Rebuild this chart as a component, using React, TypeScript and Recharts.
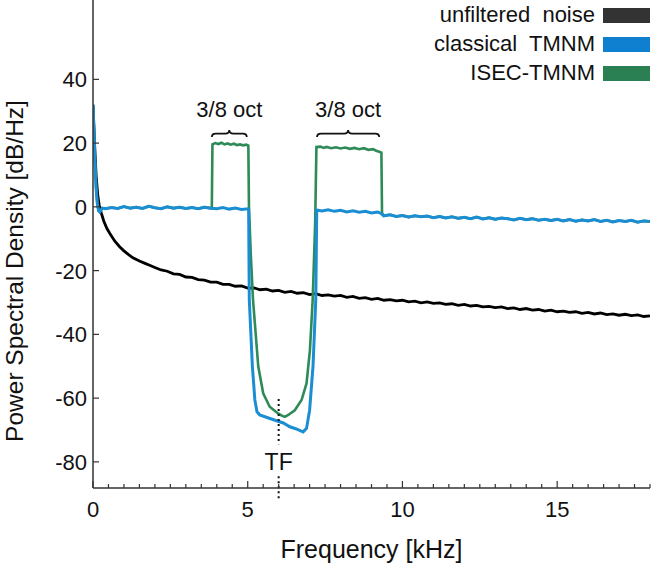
import React from 'react';
import { LineChart, Line, XAxis, YAxis, ReferenceLine, ReferenceArea, ReferenceDot } from 'recharts';

const FONT = '"Liberation Sans", Arial, Helvetica, sans-serif';

// [frequency kHz, PSD dB/Hz]
const unfiltered: [number, number][] = [
  [0, 32], [0.05, 20], [0.1, 10], [0.15, 4], [0.2, 0.5], [0.27, -2], [0.35, -4.5], [0.45, -6.8],
  [0.54, -8.3], [0.7, -10.7], [0.86, -12.5], [1.0, -13.8], [1.15, -15], [1.29, -16], [1.5, -17],
  [1.7, -17.8], [1.83, -18.3], [2.0, -19.0], [2.2, -19.8], [2.4, -20.2], [2.6, -21.0], [2.8, -21.2],
  [3.0, -22.0], [3.2, -22.1], [3.4, -22.8], [3.6, -23.0], [3.8, -23.6], [4.0, -23.6], [4.2, -24.3],
  [4.4, -24.3], [4.6, -24.9], [4.8, -24.8], [5.0, -25.5], [5.2, -25.4], [5.4, -26.0], [5.6, -25.8],
  [5.8, -26.4], [6.0, -26.2], [6.2, -26.8], [6.4, -26.5], [6.6, -27.1], [6.8, -26.9], [7.0, -27.5],
  [7.2, -27.2], [7.4, -27.8], [7.6, -27.6], [7.8, -28.0], [8.0, -27.8], [8.2, -28.4], [8.4, -28.1],
  [8.6, -28.7], [8.8, -28.5], [9.0, -29.0], [9.2, -28.7], [9.4, -29.3], [9.6, -29.1], [9.8, -29.5],
  [10.0, -29.3], [10.2, -29.8], [10.4, -29.6], [10.6, -30.1], [10.8, -29.8], [11.0, -30.3],
  [11.2, -30.1], [11.4, -30.6], [11.6, -30.4], [11.8, -30.9], [12.0, -30.6], [12.2, -31.1],
  [12.4, -30.9], [12.6, -31.4], [12.8, -31.2], [13.0, -31.6], [13.2, -31.4], [13.4, -31.9],
  [13.6, -31.7], [13.8, -32.2], [14.0, -31.9], [14.2, -32.4], [14.4, -32.2], [14.6, -32.7],
  [14.8, -32.4], [15.0, -32.9], [15.2, -32.7], [15.4, -33.1], [15.6, -32.9], [15.8, -33.4],
  [16.0, -33.1], [16.2, -33.6], [16.4, -33.3], [16.6, -33.8], [16.8, -33.6], [17.0, -34.0],
  [17.2, -33.7], [17.4, -34.1], [17.6, -33.9], [17.8, -34.4], [18.0, -34.2],
];

const classical: [number, number][] = [
  [0, 32], [0.03, 24], [0.06, 15], [0.1, 6], [0.14, 1], [0.18, -1.2], [0.22, -1.6], [0.26, -1.0],
  [0.3, -0.4], [0.4, -0.6], [0.6, -0.2], [0.8, -0.5], [1.0, 0.1], [1.2, -0.4], [1.4, -0.1],
  [1.6, -0.5], [1.8, 0.2], [2.0, -0.3], [2.2, -0.6], [2.4, 0.0], [2.6, -0.4], [2.8, -0.1],
  [3.0, -0.5], [3.2, -0.2], [3.4, -0.6], [3.6, -0.1], [3.8, -0.4], [4.0, -0.6], [4.2, -0.2],
  [4.4, -0.7], [4.6, -0.4], [4.8, -0.8], [5.0, -0.6], [5.03, -1], [5.05, -29], [5.15, -50],
  [5.23, -60.5], [5.3, -64.3], [5.39, -65.3], [5.6, -66], [5.93, -67.1], [6.15, -67.8], [6.36, -69],
  [6.55, -69.6], [6.79, -70.6], [6.9, -69.5], [7.0, -63.8], [7.11, -50], [7.2, -29], [7.23, -1],
  [7.4, -1.3], [7.6, -0.9], [7.8, -1.4], [8.0, -1.1], [8.2, -1.6], [8.4, -1.2], [8.6, -1.7],
  [8.8, -1.4], [9.0, -1.9], [9.2, -1.6], [9.3, -2.0], [9.4, -2.8], [9.6, -2.5], [9.8, -3.0],
  [10.0, -2.7], [10.2, -3.2], [10.4, -2.8], [10.6, -3.1], [10.8, -2.9], [11.0, -3.4], [11.2, -3.0],
  [11.4, -3.5], [11.6, -3.1], [11.8, -3.6], [12.0, -3.3], [12.2, -3.7], [12.4, -3.2], [12.6, -3.8],
  [12.8, -3.4], [13.0, -3.9], [13.2, -3.5], [13.4, -3.7], [13.6, -4.1], [13.8, -3.6], [14.0, -4.0],
  [14.2, -3.7], [14.4, -4.2], [14.6, -3.9], [14.8, -4.3], [15.0, -3.9], [15.2, -4.4], [15.4, -4.0],
  [15.6, -4.5], [15.8, -4.1], [16.0, -4.4], [16.2, -4.0], [16.4, -4.6], [16.6, -4.2], [16.8, -4.7],
  [17.0, -4.3], [17.2, -4.6], [17.4, -4.2], [17.6, -4.8], [17.8, -4.4], [18.0, -4.6],
];

// ISEC-TMNM differs from classical only between 3.84 and 9.34 kHz
const isecBands: [number, number][] = [
  [3.84, -0.4], [3.86, 19.6], [3.95, 20.0], [4.05, 19.7], [4.15, 20.1], [4.25, 19.6], [4.35, 19.9],
  [4.45, 19.5], [4.55, 19.8], [4.65, 19.4], [4.75, 19.6], [4.85, 19.3], [4.95, 19.5], [5.02, 19.2],
  [5.04, 0], [5.1, -15], [5.17, -29], [5.34, -50], [5.5, -58.5], [5.71, -62.7], [5.98, -64.8],
  [6.1, -65.5], [6.2, -65.9], [6.31, -65.3], [6.52, -63.8], [6.74, -60.6], [6.9, -55.4], [7.01, -45],
  [7.1, -29], [7.18, -5], [7.22, 18.8], [7.35, 18.9], [7.45, 18.5], [7.55, 18.8], [7.7, 18.4],
  [7.85, 18.7], [8.0, 18.3], [8.15, 18.6], [8.3, 18.2], [8.45, 18.5], [8.6, 18.1], [8.75, 18.4],
  [8.9, 17.9], [9.05, 18.1], [9.15, 17.6], [9.25, 17.3], [9.32, 17.0], [9.34, -1.9],
];

const bandBraces = [
  { from: 3.84, to: 4.97, label: '3/8 oct' },
  { from: 7.24, to: 9.25, label: '3/8 oct' },
];

const xTicks = Array.from({ length: 37 }, (_, i) => i * 0.5);
const yTicks = [-80, -60, -40, -20, 0, 20, 40];
const TF = 6;

const toRows = (pts: [number, number][]) => pts.map(([f, db]) => ({ f, db }));
const isec = [
  ...classical.filter(([f]) => f < 3.84),
  ...isecBands,
  ...classical.filter(([f]) => f > 9.34),
];

const legendItems = [
  { name: 'unfiltered  noise', color: '#333333' },
  { name: 'classical  TMNM', color: '#0e80cf' },
  { name: 'ISEC-TMNM', color: '#2a7f53' },
];

const XTick = (props: any) => {
  const { x, y, payload } = props;
  const v = payload.value;
  const major = v % 5 === 0;
  return (
    <g>
      <line x1={x} x2={x} y1={y} y2={y - (major ? 7 : 4)} stroke="#333" strokeWidth={1.2} />
      {major && (
        <text x={x} y={y + 29} textAnchor="middle" fontSize={22} fontFamily={FONT} fill="#111">
          {v}
        </text>
      )}
    </g>
  );
};

const YTick = (props: any) => {
  const { x, y, payload } = props;
  return (
    <g>
      <line x1={x} x2={x + 6} y1={y} y2={y} stroke="#333" strokeWidth={1.2} />
      <text x={x - 6} y={y + 8} textAnchor="end" fontSize={22} fontFamily={FONT} fill="#111">
        {payload.value}
      </text>
    </g>
  );
};

const Brace = (props: any) => {
  const { x, y, width: w, height: h } = props;
  const ym = y + h * 0.5;
  const xm = x + w / 2;
  const r = Math.min(4, w / 8);
  const d = `M${x},${y + h} Q${x},${ym} ${x + r},${ym} L${xm - r},${ym} Q${xm},${ym} ${xm},${y} Q${xm},${ym} ${xm + r},${ym} L${x + w - r},${ym} Q${x + w},${ym} ${x + w},${y + h}`;
  return <path d={d} fill="none" stroke="#111" strokeWidth={1.8} />;
};

export default function App() {
  return (
    <div style={{ position: 'relative', width: 651, height: 576, background: '#fff' }}>
      <style>{'body{margin:0}'}</style>
      <LineChart width={651} height={576} margin={{ top: 0, right: 1, bottom: 0, left: 0 }}>
        <XAxis
          dataKey="f"
          type="number"
          domain={[0, 18]}
          ticks={xTicks}
          interval={0}
          tickSize={0}
          tickMargin={0}
          tick={<XTick />}
          height={88}
          stroke="#333"
          strokeWidth={1.5}
          allowDataOverflow
          label={{
            value: 'Frequency [kHz]',
            position: 'insideBottom',
            offset: 18,
            fontSize: 25,
            fontFamily: FONT,
            fill: '#111',
          }}
        />
        <YAxis
          type="number"
          domain={[-88.2, 64.9]}
          ticks={yTicks}
          interval={0}
          tickSize={0}
          tickMargin={0}
          tick={<YTick />}
          width={93}
          stroke="#333"
          strokeWidth={1.5}
          allowDataOverflow
          label={{
            content: () => (
              <text
                x={23}
                y={271}
                transform="rotate(-90 23 271)"
                textAnchor="middle"
                fontSize={24.5}
                fontFamily={FONT}
                fill="#111"
              >
                Power Spectral Density [dB/Hz]
              </text>
            ),
          }}
        />
        <Line data={toRows(unfiltered)} dataKey="db" stroke="#000" strokeWidth={2.8} dot={false} isAnimationActive={false} />
        <Line data={toRows(isec)} dataKey="db" stroke="#2e8b57" strokeWidth={2.6} dot={false} isAnimationActive={false} />
        <Line data={toRows(classical)} dataKey="db" stroke="#1b8dd3" strokeWidth={3} dot={false} isAnimationActive={false} />
        {bandBraces.map((b, i) => (
          <ReferenceArea
            key={i}
            x1={b.from}
            x2={b.to}
            y1={21.9}
            y2={24.1}
            shape={<Brace />}
            label={{ value: b.label, position: 'top', offset: 13, fontSize: 22, fontFamily: FONT, fill: '#111' }}
          />
        ))}
        <ReferenceLine
          segment={[{ x: TF, y: -60.3 }, { x: TF, y: -74.5 }]}
          stroke="#111"
          strokeWidth={2}
          strokeDasharray="2 3"
          ifOverflow="visible"
        />
        <ReferenceLine
          segment={[{ x: TF, y: -84.5 }, { x: TF, y: -92 }]}
          stroke="#111"
          strokeWidth={2}
          strokeDasharray="2 3"
          ifOverflow="visible"
        />
        <ReferenceDot
          x={TF}
          y={-80}
          r={1}
          fill="none"
          stroke="none"
          label={{ value: 'TF', position: 'center', fontSize: 23, fontFamily: FONT, fill: '#111' }}
        />
      </LineChart>
      <div style={{ position: 'absolute', top: 0, right: 1, fontFamily: FONT, fontSize: 22, color: '#111' }}>
        {legendItems.map((it, i) => (
          <div
            key={it.name}
            style={{
              position: 'absolute',
              right: 0,
              top: [3, 32, 61][i],
              height: 24,
              display: 'flex',
              alignItems: 'center',
              whiteSpace: 'pre',
              lineHeight: '24px',
            }}
          >
            <span>{it.name}</span>
            <span style={{ display: 'inline-block', width: 47, height: 15, background: it.color, marginLeft: 8 }} />
          </div>
        ))}
      </div>
    </div>
  );
}
